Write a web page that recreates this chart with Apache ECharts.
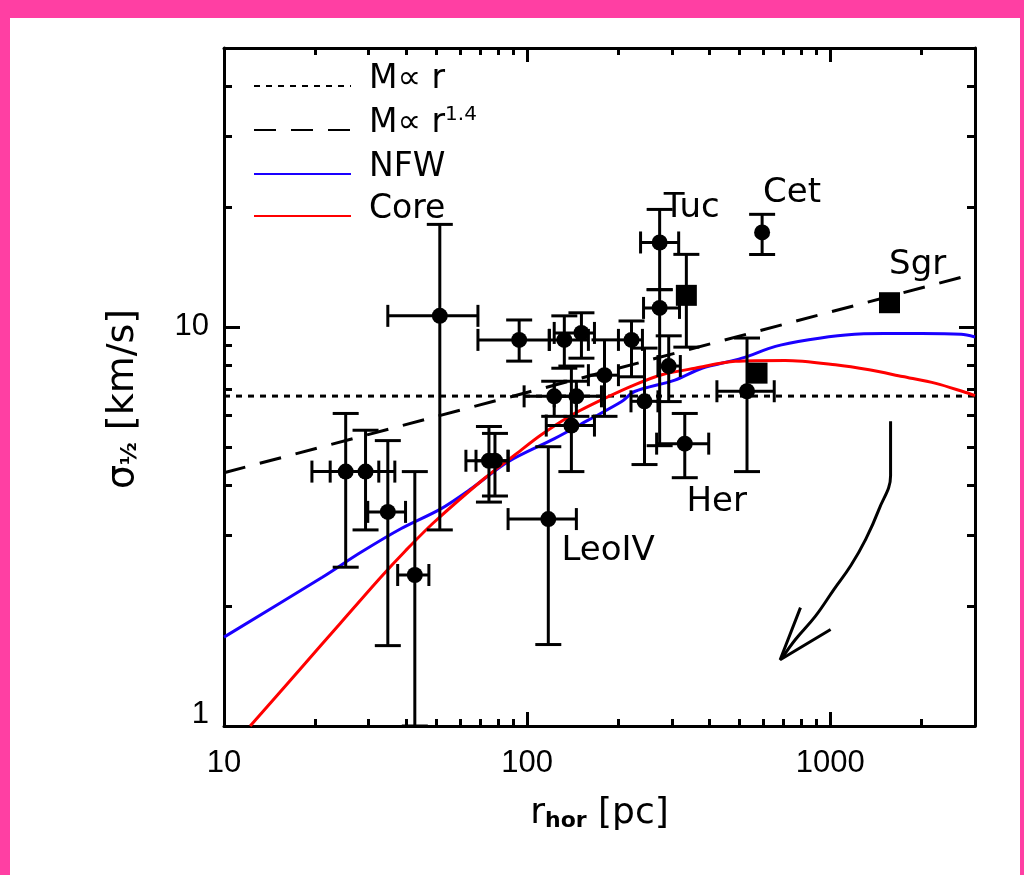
<!DOCTYPE html>
<html>
<head>
<meta charset="utf-8">
<script src="https://cdn.jsdelivr.net/npm/echarts@6/dist/echarts.min.js"></script>
<style>
  html, body { margin: 0; padding: 0; background: #fff; }
  #chart { width: 1024px; height: 875px; }
</style>
</head>
<body>
<div id="chart"></div>
<script>
const FONT = 'DejaVu Sans'
const NUM_FONT = 'Liberation Sans'

// axis ticks
const xTicksMajor = [10, 100, 1000]
const xTicksMinor = [20, 30, 40, 50, 60, 70, 80, 90, 200, 300, 400, 500, 600, 700, 800, 900, 2000]
const yTicksMajor = [1, 10]
const yTicksMinor = [2, 3, 4, 5, 6, 7, 8, 9, 20, 30, 40]

// dwarf galaxies: half-light radius [pc], dispersion [km/s] and error ranges
const rHalf   = [25.2, 29.3, 34.7, 42.6, 51.5, 74.8, 78.3, 94.1, 117.4, 132.6, 151, 122.8, 145.3, 139.9, 179.9, 220.9, 243.8, 273.5, 273.5, 293, 335, 331, 531, 573, 595.6, 1567]
const sigma   = [4.34, 4.34, 3.44, 2.39, 10.66, 4.62, 4.62, 9.28, 3.30, 9.28, 9.66, 6.70, 6.70, 5.66, 7.57, 9.28, 6.51, 16.28, 11.16, 7.98, 12.0, 5.10, 6.90, 7.66, 17.25, 11.5]
const rLow    = [19.5, 22.4, 29.8, 37.4, 34.7, 62.8, 67.8, 68.8, 86.5, 118.3, 122.8, 97.7, 122.8, 115.6, 159.2, 200, 220, 236.6, 242, 270, 335, 267.3, 422.5, 573, 595.6, 1567]
const rHigh   = [32.4, 36.6, 39.7, 47.4, 68.8, 86.5, 86.5, 118.3, 145.3, 159.2, 166.7, 145.3, 175.8, 166.7, 200, 240, 270, 316, 318, 320, 335, 397, 653, 573, 595.6, 1567]
const sigLow  = [2.50, 3.10, 1.59, 1.00, 3.10, 3.64, 3.77, 8.21, 1.60, 7.88, 8.35, 5.97, 5.97, 4.34, 5.97, 7.5, 4.52, 12.4, 5.04, 6.5, 8.9, 4.19, 4.34, 7.66, 15.19, 11.5]
const sigHigh = [6.07, 5.51, 5.19, 4.34, 18.07, 5.63, 5.41, 10.41, 5.01, 10.66, 10.85, 7.31, 7.31, 7.98, 9.28, 10.35, 8.85, 19.7, 12.4, 9.5, 15.2, 6.07, 9.38, 7.66, 19.15, 11.5]
const marker  = ['c', 'c', 'c', 'c', 'c', 'c', 'c', 'c', 'c', 'c', 'c', 'c', 'c', 'c', 'c', 'c', 'c', 'c', 'c', 'c', 's', 'c', 'c', 's', 'c', 's']

// galaxy names
const labelNames = ['Tuc', 'Cet', 'Sgr', 'Her', 'LeoIV']
const labelR     = [349, 748, 1941, 422, 185]
const labelSig   = [19.9, 21.6, 14.25, 3.645, 2.744]

// model curves
const massR       = [10, 3000]
const massSig     = [6.71, 6.71]
const mass14R     = [10, 3000]
const mass14Sig   = [4.31, 13.6]
const nfwR   = [10, 21.1, 28.2, 38.3, 51.9, 65.3, 86.3, 123, 159, 205, 226, 307, 377, 511, 659, 849, 1124, 1500, 2000, 2700, 3000]
const nfwSig = [1.67, 2.36, 2.72, 3.12, 3.50, 3.93, 4.59, 5.25, 5.84, 6.50, 6.89, 7.36, 7.88, 8.35, 8.94, 9.29, 9.55, 9.63, 9.63, 9.58, 9.44]
const coreR   = [12.2, 17.85, 24.2, 32.9, 39.7, 49.3, 72.2, 90.8, 111, 140, 180, 226, 278, 358, 486, 710, 1039, 1343, 1730, 2228, 2736, 3000]
const coreSig = [1.0, 1.39, 1.81, 2.36, 2.75, 3.24, 4.17, 4.77, 5.36, 6.01, 6.62, 7.16, 7.59, 7.88, 8.20, 8.24, 8.04, 7.81, 7.51, 7.22, 6.89, 6.73]

// curved arrow
const arrowR   = [1580, 1580, 1449, 1309, 1167, 1028, 893, 767, 693]
const arrowSig = [5.80, 4.24, 3.50, 2.94, 2.52, 2.20, 1.885, 1.647, 1.48]
const headR    = [797, 683, 1002]
const headSig  = [1.98, 1.466, 1.745]

const zip = (a, b) => a.map((v, i) => [v, b[i]])

const points = rHalf.map((r, i) => [r, sigma[i], rLow[i], rHigh[i], sigLow[i], sigHigh[i]])

function drawErr(params, api) {
  const r = api.value(0), s = api.value(1)
  const rl = api.value(2), rh = api.value(3), sl = api.value(4), sh = api.value(5)
  const st = {stroke: '#000', lineWidth: 3, fill: null}
  const kids = []
  const seg = (x1, y1, x2, y2) => kids.push({type: 'line', shape: {x1, y1, x2, y2}, style: st})
  if (rh > rl) {
    const a = api.coord([rl, s]), b = api.coord([rh, s])
    seg(a[0], a[1], b[0], b[1])
    seg(a[0], a[1] - 11, a[0], a[1] + 11)
    seg(b[0], b[1] - 11, b[0], b[1] + 11)
  }
  if (sh > sl) {
    const a = api.coord([r, sl]), b = api.coord([r, sh])
    seg(a[0], a[1], b[0], b[1])
    seg(a[0] - 13, a[1], a[0] + 13, a[1])
    seg(b[0] - 13, b[1], b[0] + 13, b[1])
  }
  return {type: 'group', children: kids}
}

function xAxis(pos, ticks, len, main) {
  return {
    type: 'log', logBase: 10, min: 10, max: 3000, position: pos,
    axisLine: {show: main, onZero: false, lineStyle: {color: '#000', width: 3}},
    axisTick: {show: true, inside: true, length: len, customValues: ticks, lineStyle: {color: '#000', width: 3}},
    axisLabel: {show: main && pos === 'bottom', customValues: xTicksMajor, margin: 22,
      color: '#000', fontFamily: NUM_FONT, fontSize: 31, formatter: v => String(v)},
    splitLine: {show: false},
    name: main && pos === 'bottom' ? '{r|r}{s|hor}{r| [pc]}' : '',
    nameLocation: 'middle', nameGap: 70,
    nameTextStyle: {color: '#000', fontFamily: FONT, rich: {
      r: {fontSize: 36, color: '#000', fontFamily: FONT},
      s: {fontSize: 22, fontWeight: 'bold', color: '#000', fontFamily: FONT, padding: [14, 0, 0, 0]}
    }}
  }
}

function yAxis(pos, ticks, len, main) {
  return {
    type: 'log', logBase: 10, min: 1, max: 50, position: pos,
    axisLine: {show: main, onZero: false, lineStyle: {color: '#000', width: 3}},
    axisTick: {show: true, inside: true, length: len, customValues: ticks, lineStyle: {color: '#000', width: 3}},
    axisLabel: {show: main && pos === 'left', customValues: yTicksMajor, margin: 15,
      color: '#000', fontFamily: NUM_FONT, fontSize: 31,
      formatter: v => v === 1 ? '{b|1}' : String(v),
      rich: {b: {fontSize: 31, fontFamily: NUM_FONT, color: '#000', padding: [0, 0, 24, 0]}}},
    splitLine: {show: false},
    name: main && pos === 'left' ? '{a|σ}{s|½}{a| [km/s]}' : '',
    nameLocation: 'middle', nameGap: 82, nameRotate: 90,
    nameTextStyle: {color: '#000', fontFamily: FONT, padding: [0, 24, 0, 0], rich: {
      a: {fontSize: 38, color: '#000', fontFamily: FONT},
      s: {fontSize: 22, fontWeight: 'bold', color: '#000', fontFamily: FONT, padding: [14, 0, 0, 0]}
    }}
  }
}

const legendText = {
  'Mr': '{t|M∝ r}',
  'Mr14': '{t|M∝ r}{p|1.4}',
  'NFW': '{t|NFW}',
  'Core': '{t|Core}'
}

const chart = echarts.init(document.getElementById('chart'), null, {renderer: 'canvas'})

chart.setOption({
  backgroundColor: '#fff',
  animation: false,
  grid: {left: 224, right: 49, top: 48, bottom: 149},
  graphic: [
    {type: 'rect', left: 0, top: 0, shape: {width: 1024, height: 18}, style: {fill: '#ff3fa3'}},
    {type: 'rect', left: 0, top: 0, shape: {width: 10, height: 875}, style: {fill: '#ff3fa3'}},
    {type: 'rect', right: 0, top: 0, shape: {width: 4, height: 875}, style: {fill: '#ff3fa3'}}
  ],
  legend: {
    orient: 'vertical', left: 248, top: 58,
    itemWidth: 97, itemHeight: 10, itemGap: -4,
    selectedMode: false,
    itemStyle: {opacity: 0},
    data: ['Mr', 'Mr14', 'NFW', 'Core'],
    formatter: name => legendText[name],
    textStyle: {
      color: '#000', fontFamily: FONT, fontSize: 33,
      rich: {
        t: {fontSize: 33, fontFamily: FONT, color: '#000', lineHeight: 21, padding: [0, 0, 13, 13]},
        p: {fontSize: 20, fontFamily: FONT, color: '#000', lineHeight: 4, padding: [0, 0, 30, 0]}
      }
    }
  },
  xAxis: [
    xAxis('bottom', xTicksMajor, 14, true),
    xAxis('bottom', xTicksMinor, 7, false),
    xAxis('top', xTicksMajor, 14, true),
    xAxis('top', xTicksMinor, 7, false)
  ],
  yAxis: [
    yAxis('left', yTicksMajor, 16, true),
    yAxis('left', yTicksMinor, 8, false),
    yAxis('right', yTicksMajor, 16, true),
    yAxis('right', yTicksMinor, 8, false)
  ],
  series: [
    {name: 'Mr', type: 'line', data: zip(massR, massSig), symbol: 'none', z: 2,
      lineStyle: {color: '#000', width: 3, type: [6, 6]}, itemStyle: {color: '#000'}},
    {name: 'Mr14', type: 'line', data: zip(mass14R, mass14Sig), symbol: 'none', z: 2,
      lineStyle: {color: '#000', width: 3, type: [22, 15]}, itemStyle: {color: '#000'}},
    {name: 'NFW', type: 'line', data: zip(nfwR, nfwSig), symbol: 'none', smooth: 0.3, z: 2,
      lineStyle: {color: '#1a00ff', width: 3}, itemStyle: {color: '#1a00ff'}},
    {name: 'Core', type: 'line', data: zip(coreR, coreSig), symbol: 'none', smooth: 0.3, z: 2,
      lineStyle: {color: '#ff0000', width: 3}, itemStyle: {color: '#ff0000'}},
    {type: 'custom', data: points, renderItem: drawErr, encode: {x: 0, y: 1}, z: 3, clip: true},
    {type: 'scatter', symbol: 'circle', symbolSize: 16, z: 4,
      data: points.filter((p, i) => marker[i] === 'c').map(p => [p[0], p[1]]),
      itemStyle: {color: '#000', opacity: 1}},
    {type: 'scatter', symbol: 'rect', symbolSize: 21, z: 4,
      data: points.filter((p, i) => marker[i] === 's').map(p => [p[0], p[1]]),
      itemStyle: {color: '#000', opacity: 1}},
    {type: 'scatter', symbolSize: 0, z: 5,
      data: labelNames.map((n, i) => ({name: n, value: [labelR[i], labelSig[i]]})),
      itemStyle: {opacity: 1},
      label: {show: true, position: 'inside', formatter: '{b}', color: '#000',
        fontFamily: FONT, fontSize: 34}},
    {type: 'line', data: zip(arrowR, arrowSig), symbol: 'none', smooth: 0.4, z: 3,
      lineStyle: {color: '#000', width: 3}},
    {type: 'line', data: zip(headR, headSig), symbol: 'none', z: 3,
      lineStyle: {color: '#000', width: 3}}
  ]
})
</script>
</body>
</html>
